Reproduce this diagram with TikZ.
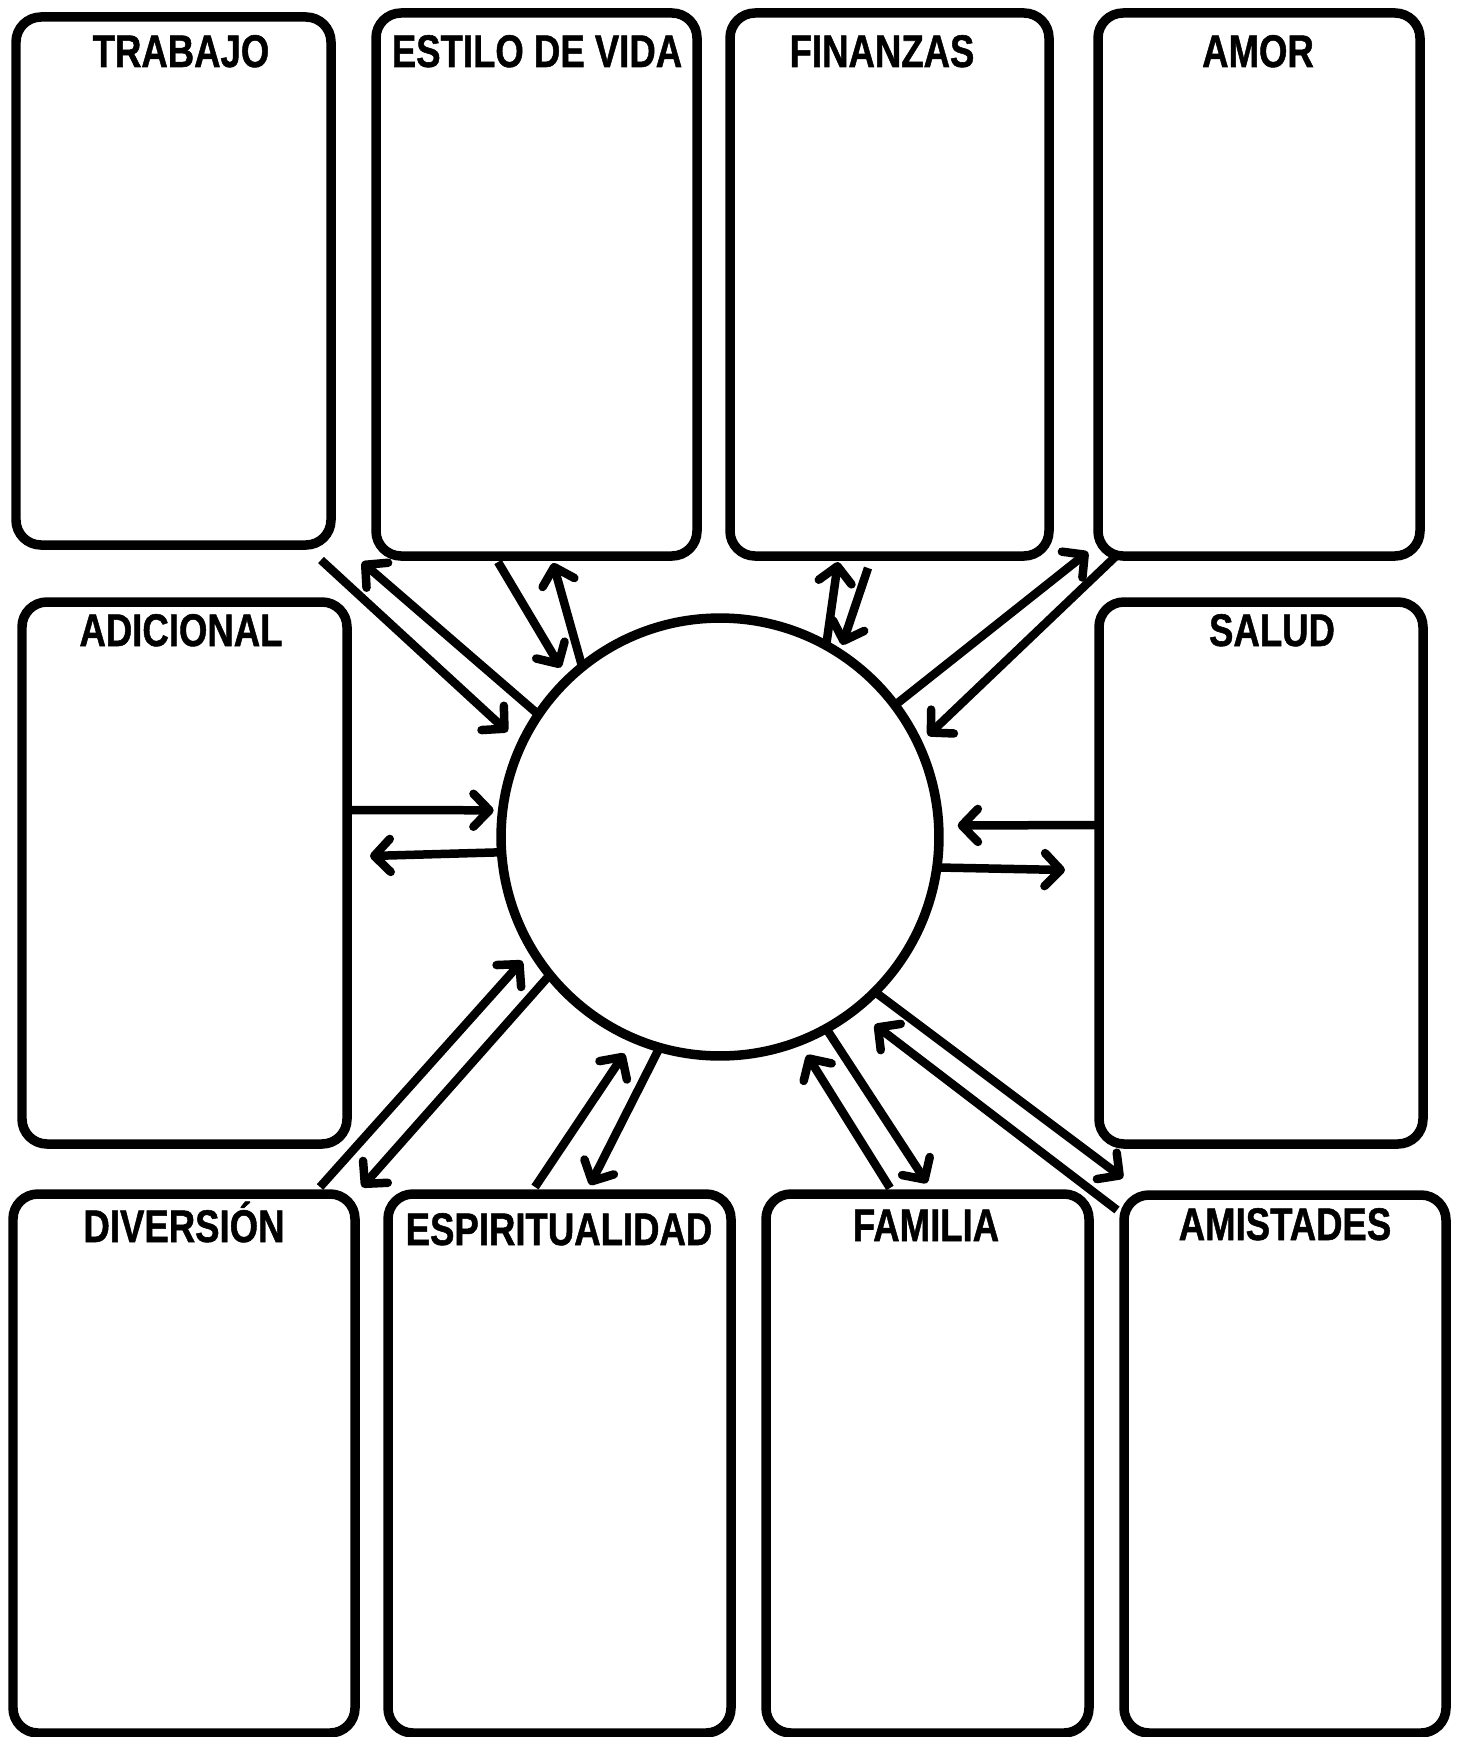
\documentclass[tikz,border=0pt]{standalone}
\usepackage{fontspec}
\usepackage{graphicx}
\usetikzlibrary{positioning,arrows.meta,calc,fit}
\newfontfamily\titlefont{Liberation Sans}[BoldFeatures={FakeBold=1.2}]
\newcommand{\cardtitle}[1]{\scalebox{0.8}[1]{#1}}

\begin{document}
\begin{tikzpicture}[x=0.02cm, y=-0.02cm,
  card/.style={draw, line width=0.19cm, rounded corners=0.5cm, inner sep=0pt},
  hub/.style={draw, circle, line width=0.19cm, minimum size=8.76cm, inner sep=0pt, outer sep=0pt},
  title/.style={anchor=base, inner sep=0pt, font=\titlefont\bfseries\fontsize{26pt}{30pt}\selectfont},
  link/.style={line width=0.17cm, -{Straight Barb[round, length=0.32cm, width=0.66cm]}}]
  \useasboundingbox (0,0) rectangle (1461,1737);
  \node[card, fit={(16,17) (331,545)}] (trabajo) {};
  \node[card, fit={(376,13) (697,556)}] (estilo) {};
  \node[card, fit={(730,13) (1049,556)}] (finanzas) {};
  \node[card, fit={(1098,13) (1420,556)}] (amor) {};
  \node[card, fit={(22,602) (347,1144)}] (adicional) {};
  \node[card, fit={(1099,602) (1423,1144)}] (salud) {};
  \node[card, fit={(13,1194) (355,1733)}] (diversion) {};
  \node[card, fit={(388,1194) (731,1733)}] (espiritu) {};
  \node[card, fit={(766,1194) (1089,1733)}] (familia) {};
  \node[card, fit={(1124,1195) (1446,1733)}] (amistades) {};
  \node[title] (trabajoT) at (181,67) {\cardtitle{TRABAJO}};
  \node[title] (estiloT) at (537,67) {\cardtitle{ESTILO DE VIDA}};
  \node[title] (finanzasT) at (882,67) {\cardtitle{FINANZAS}};
  \node[title] (amorT) at (1258,67) {\cardtitle{AMOR}};
  \node[title] (adicionalT) at (181,646) {\cardtitle{ADICIONAL}};
  \node[title] (saludT) at (1272,646) {\cardtitle{SALUD}};
  \node[title] (diversionT) at (184,1242) {\cardtitle{DIVERSIÓN}};
  \node[title] (espirituT) at (559,1245) {\cardtitle{ESPIRITUALIDAD}};
  \node[title] (familiaT) at (926,1241) {\cardtitle{FAMILIA}};
  \node[title] (amistadesT) at (1285,1240) {\cardtitle{AMISTADES}};
  \node[hub] (centro) at (720,837) {};
  \coordinate (trabajoOut) at (321,560);
  \coordinate (trabajoIn) at (362,562);
  \coordinate (estiloOut) at (498,562);
  \coordinate (estiloIn) at (553,563);
  \coordinate (finanzasOut) at (868,568);
  \coordinate (finanzasIn) at (838,562);
  \coordinate (amorOut) at (1115,557);
  \coordinate (amorIn) at (1088,552);
  \coordinate (adicionalOut) at (350,810);
  \coordinate (adicionalIn) at (370,856);
  \coordinate (saludOut) at (1099,825);
  \coordinate (saludIn) at (1065,870);
  \coordinate (diversionOut) at (320,1187);
  \coordinate (diversionIn) at (362,1187);
  \coordinate (espirituOut) at (535,1187);
  \coordinate (espirituIn) at (590,1185);
  \coordinate (familiaOut) at (890,1188);
  \coordinate (familiaIn) at (927,1183);
  \coordinate (amistadesOut) at (1117,1210);
  \coordinate (amistadesIn) at (1123,1178);
  \draw[link, shorten >=0.38cm] (trabajoOut) -- (centro.155.4);
  \draw[link] (centro.146.2) -- (trabajoIn);
  \draw[link, shorten >=0.28cm] (estiloOut) -- (centro.134.3);
  \draw[link] (centro.129.5) -- (estiloIn);
  \draw[link, shorten >=0.18cm] (finanzasOut) -- (centro.57.8);
  \draw[link] (centro.61.9) -- (finanzasIn);
  \draw[link, shorten >=0.26cm] (amorOut) -- (centro.25.7);
  \draw[link] (centro.37.7) -- (amorIn);
  \draw[link, shorten >=0.18cm] (adicionalOut) -- (centro.173.8);
  \draw[link] (centro.184.9) -- (adicionalIn);
  \draw[link, shorten >=0.38cm] (saludOut) -- (centro.3.1);
  \draw[link] (centro.352.6) -- (saludIn);
  \draw[link, shorten >=0.30cm] (diversionOut) -- (centro.211.3);
  \draw[link] (centro.219.6) -- (diversionIn);
  \draw[link, shorten >=0.36cm] (espirituOut) -- (centro.247.9);
  \draw[link] (centro.254) -- (espirituIn);
  \draw[link, shorten >=0.32cm] (familiaOut) -- (centro.291.3);
  \draw[link] (centro.299) -- (familiaIn);
  \draw[link, shorten >=0.50cm] (amistadesOut) -- (centro.308.8);
  \draw[link] (centro.315.4) -- (amistadesIn);
\end{tikzpicture}
\end{document}
